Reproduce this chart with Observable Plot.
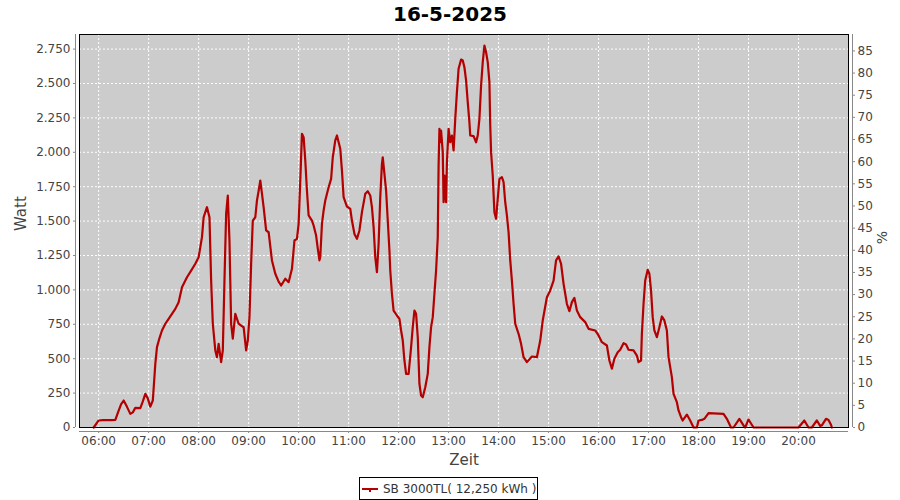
<!DOCTYPE html>
<html>
<head>
<meta charset="utf-8">
<script src="https://cdn.jsdelivr.net/npm/d3@7"></script>
<script src="https://cdn.jsdelivr.net/npm/@observablehq/plot@0.6"></script>
<style>
  body { margin: 0; background: #fff; font-family: "DejaVu Sans", sans-serif; }
  #wrap { position: relative; width: 900px; height: 500px; overflow: hidden; }
  #title { position: absolute; left: 0; top: 0; width: 900px; height: 30px; text-align: center;
           font-weight: bold; font-size: 20px; line-height: 28px; color: #000; }
  #chart { position: absolute; left: 0; top: 30px; }
  #legend { position: absolute; left: 359px; top: 477px; width: 179px; height: 23px; box-sizing: border-box;
            border: 1px solid #000; font-size: 12px; color: #333; display: flex; align-items: center;
            padding-left: 2px; white-space: nowrap; }
  #legend svg { margin-right: 4px; }
</style>
</head>
<body>
<div id="wrap">
  <div id="title"></div>
  <div id="chart"></div>
  <div id="legend"></div>
</div>
<script>
// ---- data ----
const chartTitle = "16-5-2025";
const seriesName = "SB 3000TL";
const totalLabel = "12,250 kWh";
const xLabel = "Zeit";
const yLabel = "Watt";
const y2Label = "%";

const times = [
  "05:54","06:00","06:05","06:10","06:15","06:20","06:24","06:27","06:30","06:34","06:38","06:41","06:44","06:50","06:53","06:56","06:59",
  "07:02","07:05","07:08","07:10","07:13","07:16","07:20","07:24","07:28","07:32","07:36","07:40","07:46","07:51","07:56",
  "08:00","08:04","08:06","08:10","08:13","08:15","08:17","08:20","08:22","08:24","08:27","08:29","08:31","08:33","08:35","08:37","08:39","08:41","08:44","08:48","08:51","08:54","08:57","08:59",
  "09:01","09:03","09:05","09:08","09:10","09:12","09:14","09:16","09:18","09:21","09:24","09:28","09:32","09:36","09:39","09:44","09:48","09:52","09:55","09:58",
  "10:00","10:02","10:04","10:06","10:08","10:10","10:12","10:16","10:18","10:21","10:23","10:25","10:26","10:28","10:30","10:32","10:36","10:39","10:41","10:44","10:46","10:50","10:52","10:54","10:58",
  "11:02","11:04","11:07","11:10","11:13","11:16","11:20","11:23","11:26","11:28","11:30","11:32","11:34","11:36","11:38","11:40","11:41","11:43","11:45","11:47","11:49","11:50","11:52","11:54","11:58",
  "12:01","12:03","12:05","12:07","12:09","12:12","12:15","12:17","12:19","12:21","12:23","12:25","12:27","12:29","12:32","12:35","12:37","12:39","12:41","12:43","12:45","12:47","12:48","12:49","12:50","12:51","12:53","12:54","12:55","12:57","12:58",
  "13:00","13:02","13:04","13:06","13:08","13:10","13:12","13:15","13:17","13:19","13:21","13:23","13:25","13:26","13:30","13:33","13:35","13:37","13:39","13:41","13:43","13:45","13:47","13:49","13:50","13:51","13:53","13:55","13:57","13:59",
  "14:01","14:04","14:06","14:08","14:10","14:12","14:14","14:16","14:18","14:20","14:24","14:27","14:30","14:34","14:40","14:46","14:50","14:53","14:58",
  "15:02","15:06","15:09","15:12","15:15","15:18","15:22","15:25","15:28","15:31","15:34","15:38","15:44","15:48","15:56",
  "16:00","16:04","16:10","16:13","16:16","16:19","16:23","16:26","16:30","16:33","16:36","16:42","16:46","16:48","16:51","16:52","16:54","16:56","16:59",
  "17:01","17:03","17:05","17:07","17:10","17:13","17:16","17:19","17:22","17:24","17:28","17:30","17:34","17:36","17:39","17:41","17:46","17:50","17:54","17:58",
  "18:00","18:04","18:07","18:12","18:30","18:34","18:39","18:42","18:49","18:54","18:56",
  "19:00","19:06","20:00","20:07","20:12","20:16","20:22","20:26","20:28","20:33","20:36","20:39","20:40"
];
const watts = [
  0,51,53,53,53,55,123,170,196,150,99,110,143,141,190,245,210,
  152,196,463,584,650,705,754,790,826,862,911,1020,1092,1140,1190,
  1238,1383,1528,1601,1528,1068,754,560,511,608,475,560,1068,1553,1686,1359,754,645,826,754,740,729,560,632,
  802,1190,1504,1528,1650,1720,1795,1700,1601,1432,1419,1214,1117,1060,1032,1081,1056,1153,1359,1371,
  1480,1795,2134,2110,1940,1722,1541,1504,1468,1395,1300,1215,1240,1480,1577,1650,1746,1807,1964,2086,2122,2025,1868,1674,1606,
  1589,1504,1407,1371,1432,1565,1698,1717,1686,1601,1456,1238,1129,1335,1674,1916,1964,1843,1722,1504,1286,1141,972,850,814,
  790,705,632,487,390,390,584,729,850,826,656,318,232,220,293,390,584,729,802,972,1141,1383,1900,2171,2073,2158,2001,1637,1831,1637,1928,
  2171,2073,2122,2013,2243,2437,2607,2674,2667,2618,2522,2364,2219,2122,2117,2073,2122,2243,2485,2655,2776,2727,2655,2510,2195,2001,1831,1565,1517,1662,
  1807,1819,1783,1637,1541,1419,1214,1068,899,754,681,608,511,475,516,511,632,778,947,
  996,1068,1214,1243,1190,1044,899,845,911,942,850,802,766,717,705,
  669,620,596,487,427,499,547,565,613,603,565,560,523,475,487,681,899,1068,1146,
  1117,996,802,705,656,729,807,778,705,511,366,245,184,124,75,51,94,51,0,0,
  51,55,63,104,99,63,0,0,63,15,0,
  58,0,0,51,0,0,51,12,15,63,55,20,0
];

const xTickLabels = ["06:00","07:00","08:00","09:00","10:00","11:00","12:00","13:00","14:00","15:00","16:00","17:00","18:00","19:00","20:00"];
const wattTicks = [0,250,500,750,1000,1250,1500,1750,2000,2250,2500,2750];
const pctTicks = [0,5,10,15,20,25,30,35,40,45,50,55,60,65,70,75,80,85];
const xStart = "05:37";
const xEnd = "21:00";
const wattMax = 2856;
const pctMax = 88.7;

// ---- build ----
const parse = d3.utcParse("%H:%M");
const fmtDE = d3.formatLocale({decimal: ",", thousands: ".", grouping: [3], currency: ["", "€"]}).format(",");
const data = times.map((t, i) => ({t: parse(t), w: watts[i]}));
const factor = wattMax / pctMax;
const xTicks = xTickLabels.map(parse);
const x0 = parse(xStart), x1 = parse(xEnd);

const gridStyle = {stroke: "#ffffff", strokeOpacity: 1, strokeWidth: 1, strokeDasharray: "2,2"};
const axisCommon = {tickSize: 2, tickPadding: 3, label: null, stroke: "#888", fill: "#444", fontSize: 12};

const chart = Plot.plot({
  width: 900,
  height: 440,
  marginTop: 4,
  marginBottom: 43,
  marginLeft: 79,
  marginRight: 52,
  style: {fontFamily: "DejaVu Sans", fontSize: "12px", background: "transparent", color: "#444"},
  x: {type: "utc", domain: [x0, x1]},
  y: {domain: [0, wattMax]},
  marks: [
    Plot.frame({fill: "#cccccc", stroke: "none"}),
    Plot.gridX({ticks: xTicks, ...gridStyle}),
    Plot.gridY({ticks: wattTicks, ...gridStyle}),
    Plot.line(data, {x: "t", y: "w", stroke: "#b40000", strokeWidth: 2.2}),
    Plot.frame({stroke: "#000", strokeWidth: 1}),
    // axis lines
    Plot.ruleY([0], {dy: 4, stroke: "#888"}),
    Plot.ruleX([x0], {dx: -4, stroke: "#888"}),
    Plot.ruleX([x1], {dx: 4, stroke: "#888"}),
    // axes
    Plot.axisY({anchor: "left", ticks: wattTicks, tickFormat: fmtDE, dx: -4, ...axisCommon}),
    Plot.axisY({anchor: "right", ticks: pctTicks.map(p => p * factor), tickFormat: d => String(Math.round(d / factor)), dx: 4, ...axisCommon}),
    Plot.axisX({anchor: "bottom", ticks: xTicks, tickFormat: d3.utcFormat("%H:%M"), dy: 4, ...axisCommon}),
    // axis labels
    Plot.text([yLabel], {text: d => d, frameAnchor: "left", dx: -58, rotate: -90, fontSize: 15, fill: "#444"}),
    Plot.text([y2Label], {text: d => d, frameAnchor: "right", dx: 34, rotate: -90, fontSize: 14, fill: "#444"}),
    Plot.text([xLabel], {text: d => d, frameAnchor: "bottom", dy: 37, fontSize: 15, fill: "#444"})
  ]
});

document.getElementById("chart").appendChild(chart);
document.getElementById("title").textContent = chartTitle;

const legend = document.getElementById("legend");
legend.innerHTML =
  '<svg width="17" height="10"><line x1="0" y1="5" x2="16" y2="5" stroke="#b40000" stroke-width="2"/>' +
  '<line x1="8" y1="5" x2="8" y2="8" stroke="#b40000" stroke-width="2"/></svg>';
const span = document.createElement("span");
span.textContent = `${seriesName}( ${totalLabel} )`;
legend.appendChild(span);
</script>
</body>
</html>
